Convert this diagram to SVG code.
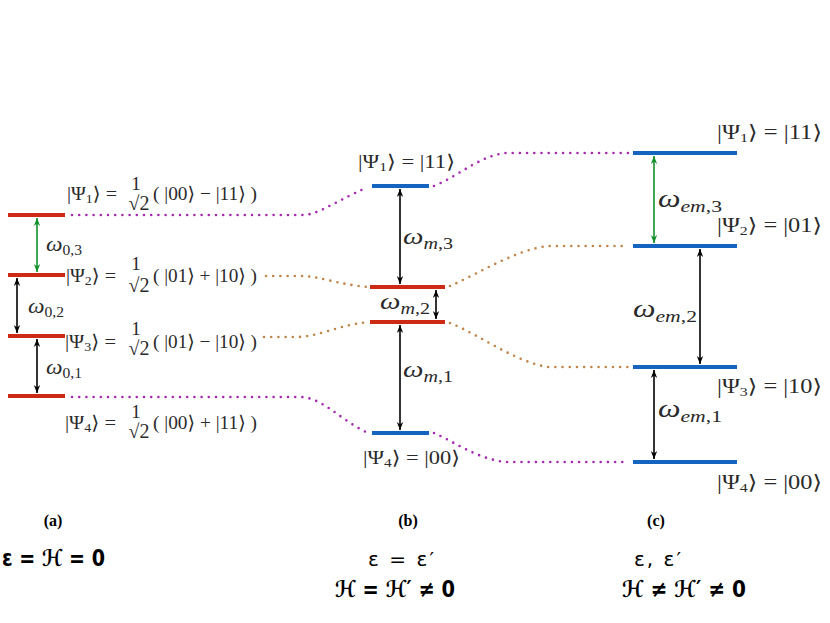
<svg xmlns="http://www.w3.org/2000/svg" width="830" height="623" viewBox="0 0 830 623">
<style>
.lv-r{stroke:#cc2a14;stroke-width:4;fill:none}
.lv-b{stroke:#1565c0;stroke-width:4;fill:none}
.arr{stroke:#000;stroke-width:1.6;fill:none;marker-start:url(#ak);marker-end:url(#ak)}
.arr-g{stroke:#12902a;stroke-width:1.6;fill:none;marker-start:url(#ag);marker-end:url(#ag)}
.dp{stroke:#a52ab0;stroke-width:2.6;fill:none;stroke-dasharray:0 7.2;stroke-linecap:round}
.db{stroke:#c0854a;stroke-width:2.6;fill:none;stroke-dasharray:0 7.2;stroke-linecap:round}
.t{font-family:'Liberation Serif','DejaVu Serif',serif;fill:#2a2a2a}
.m{font-family:'Liberation Serif','DejaVu Serif',serif;font-style:italic;fill:#2a2a2a}
.cap{font-family:'Liberation Serif','DejaVu Serif',serif;font-weight:bold;font-size:16px;fill:#000}
.eq{font-family:'DejaVu Sans',sans-serif;fill:#000}
</style>
<defs>
<marker id="ak" viewBox="0 0 10 10" refX="10" refY="5" markerWidth="8" markerHeight="8" orient="auto-start-reverse" markerUnits="userSpaceOnUse"><path d="M0,1 L10,5 L0,9 L3,5 z" fill="#000"/></marker>
<marker id="ag" viewBox="0 0 10 10" refX="10" refY="5" markerWidth="8" markerHeight="8" orient="auto-start-reverse" markerUnits="userSpaceOnUse"><path d="M0,1 L10,5 L0,9 L3,5 z" fill="#12902a"/></marker>
</defs>

<g id="connectors">
<path class="dp" d="M72,215 H302 C318,215 330,204 368,187"/>
<path class="db" d="M266,276 H300 C320,276 335,284 368,287"/>
<path class="db" d="M264,337 H296 C318,337 335,326 368,322"/>
<path class="dp" d="M72,397 H300 C322,397 340,420 368,433"/>
<path class="dp" d="M434,186 C460,175 480,156 505,153 H628"/>
<path class="db" d="M450,286 C480,273 515,250 548,246 H628"/>
<path class="db" d="M450,323 C480,335 515,362 548,367 H628"/>
<path class="dp" d="M434,433 C455,442 475,458 505,462 H628"/>
</g>

<g id="panel-a">
<line class="lv-r" x1="8" y1="215" x2="65" y2="215"/>
<line class="lv-r" x1="8" y1="275" x2="65" y2="275"/>
<line class="lv-r" x1="8" y1="336" x2="65" y2="336"/>
<line class="lv-r" x1="8" y1="396" x2="65" y2="396"/>
<line class="arr-g" x1="37" y1="218" x2="37" y2="272"/>
<line class="arr" x1="17" y1="278" x2="17" y2="333"/>
<line class="arr" x1="37" y1="339" x2="37" y2="393"/>
<text class="m" x="46" y="251" font-size="21" textLength="36" lengthAdjust="spacingAndGlyphs">ω<tspan font-size="14" font-style="normal" dy="4">0,3</tspan></text>
<text class="m" x="28" y="313" font-size="21" textLength="36" lengthAdjust="spacingAndGlyphs">ω<tspan font-size="14" font-style="normal" dy="4">0,2</tspan></text>
<text class="m" x="46" y="374" font-size="21" textLength="36" lengthAdjust="spacingAndGlyphs">ω<tspan font-size="14" font-style="normal" dy="4">0,1</tspan></text>
</g>

<g id="label-a1">
<text class="t" x="67" y="200" font-size="19" textLength="50" lengthAdjust="spacingAndGlyphs">|Ψ<tspan font-size="13" dy="3">1</tspan><tspan dy="-3">⟩ =</tspan></text>
<text class="t" x="136" y="190" font-size="19" text-anchor="middle">1</text>
<text class="t" x="139" y="210" font-size="20" text-anchor="middle">√2</text>
<text class="t" x="153" y="200" font-size="19" textLength="104" lengthAdjust="spacingAndGlyphs">( |00⟩ − |11⟩ )</text>
</g>
<g id="label-a2">
<text class="t" x="66" y="282" font-size="19" textLength="50" lengthAdjust="spacingAndGlyphs">|Ψ<tspan font-size="13" dy="3">2</tspan><tspan dy="-3">⟩ =</tspan></text>
<text class="t" x="136" y="270" font-size="19" text-anchor="middle">1</text>
<text class="t" x="139" y="292" font-size="20" text-anchor="middle">√2</text>
<text class="t" x="153" y="282" font-size="19" textLength="104" lengthAdjust="spacingAndGlyphs">( |01⟩ + |10⟩ )</text>
</g>
<g id="label-a3">
<text class="t" x="65" y="348" font-size="19" textLength="51" lengthAdjust="spacingAndGlyphs">|Ψ<tspan font-size="13" dy="3">3</tspan><tspan dy="-3">⟩ =</tspan></text>
<text class="t" x="136" y="335" font-size="19" text-anchor="middle">1</text>
<text class="t" x="139" y="355" font-size="20" text-anchor="middle">√2</text>
<text class="t" x="153" y="348" font-size="19" textLength="104" lengthAdjust="spacingAndGlyphs">( |01⟩ − |10⟩ )</text>
</g>
<g id="label-a4">
<text class="t" x="65" y="429" font-size="19" textLength="51" lengthAdjust="spacingAndGlyphs">|Ψ<tspan font-size="13" dy="3">4</tspan><tspan dy="-3">⟩ =</tspan></text>
<text class="t" x="136" y="418" font-size="19" text-anchor="middle">1</text>
<text class="t" x="139" y="438" font-size="20" text-anchor="middle">√2</text>
<text class="t" x="153" y="429" font-size="19" textLength="104" lengthAdjust="spacingAndGlyphs">( |00⟩ + |11⟩ )</text>
</g>

<g id="panel-b">
<line class="lv-b" x1="372" y1="186" x2="429" y2="186"/>
<line class="lv-r" x1="370" y1="287" x2="445" y2="287"/>
<line class="lv-r" x1="370" y1="322" x2="445" y2="322"/>
<line class="lv-b" x1="372" y1="433" x2="429" y2="433"/>
<line class="arr" x1="400" y1="189" x2="400" y2="284"/>
<line class="arr" x1="436" y1="290" x2="436" y2="319"/>
<line class="arr" x1="400" y1="325" x2="400" y2="430"/>
<text class="m" x="403" y="244" font-size="23" textLength="50" lengthAdjust="spacingAndGlyphs">ω<tspan font-size="16" dy="5">m</tspan><tspan font-size="16" font-style="normal">,3</tspan></text>
<text class="m" x="380" y="309" font-size="23" textLength="50" lengthAdjust="spacingAndGlyphs">ω<tspan font-size="16" dy="5">m</tspan><tspan font-size="16" font-style="normal">,2</tspan></text>
<text class="m" x="403" y="377" font-size="23" textLength="50" lengthAdjust="spacingAndGlyphs">ω<tspan font-size="16" dy="5">m</tspan><tspan font-size="16" font-style="normal">,1</tspan></text>
<text class="t" x="358" y="168" font-size="19" textLength="97" lengthAdjust="spacingAndGlyphs">|Ψ<tspan font-size="13" dy="3">1</tspan><tspan dy="-3">⟩ = |11⟩</tspan></text>
<text class="t" x="363" y="464" font-size="19" textLength="97" lengthAdjust="spacingAndGlyphs">|Ψ<tspan font-size="13" dy="3">4</tspan><tspan dy="-3">⟩ = |00⟩</tspan></text>
</g>

<g id="panel-c">
<line class="lv-b" x1="633" y1="153" x2="737" y2="153"/>
<line class="lv-b" x1="633" y1="246" x2="737" y2="246"/>
<line class="lv-b" x1="633" y1="367" x2="737" y2="367"/>
<line class="lv-b" x1="633" y1="462" x2="737" y2="462"/>
<line class="arr-g" x1="654" y1="156" x2="654" y2="243"/>
<line class="arr" x1="700" y1="249" x2="700" y2="364"/>
<line class="arr" x1="654" y1="370" x2="654" y2="459"/>
<text class="m" x="658" y="207" font-size="25" textLength="64" lengthAdjust="spacingAndGlyphs">ω<tspan font-size="17" dy="5">em</tspan><tspan font-size="17" font-style="normal">,3</tspan></text>
<text class="m" x="633" y="317" font-size="25" textLength="64" lengthAdjust="spacingAndGlyphs">ω<tspan font-size="17" dy="5">em</tspan><tspan font-size="17" font-style="normal">,2</tspan></text>
<text class="m" x="658" y="417" font-size="25" textLength="64" lengthAdjust="spacingAndGlyphs">ω<tspan font-size="17" dy="5">em</tspan><tspan font-size="17" font-style="normal">,1</tspan></text>
<text class="t" x="717" y="139" font-size="20" textLength="105" lengthAdjust="spacingAndGlyphs">|Ψ<tspan font-size="13" dy="3">1</tspan><tspan dy="-3">⟩ = |11⟩</tspan></text>
<text class="t" x="717" y="232" font-size="20" textLength="105" lengthAdjust="spacingAndGlyphs">|Ψ<tspan font-size="13" dy="3">2</tspan><tspan dy="-3">⟩ = |01⟩</tspan></text>
<text class="t" x="717" y="393" font-size="20" textLength="105" lengthAdjust="spacingAndGlyphs">|Ψ<tspan font-size="13" dy="3">3</tspan><tspan dy="-3">⟩ = |10⟩</tspan></text>
<text class="t" x="717" y="489" font-size="20" textLength="105" lengthAdjust="spacingAndGlyphs">|Ψ<tspan font-size="13" dy="3">4</tspan><tspan dy="-3">⟩ = |00⟩</tspan></text>
</g>

<g id="captions">
<text class="cap" x="53" y="526" text-anchor="middle">(a)</text>
<text class="cap" x="408" y="526" text-anchor="middle">(b)</text>
<text class="cap" x="656" y="526" text-anchor="middle">(c)</text>
<text class="eq" x="2" y="566" font-size="23" font-weight="bold" textLength="103" lengthAdjust="spacingAndGlyphs">ε = ℋ = 0</text>
<text class="eq" x="368" y="566" font-size="20" textLength="66" lengthAdjust="spacing">ε  =  ε′</text>
<text class="eq" x="335" y="597" font-size="23" font-weight="bold" textLength="120" lengthAdjust="spacingAndGlyphs">ℋ = ℋ′ ≠ 0</text>
<text class="eq" x="634" y="566" font-size="20" textLength="47" lengthAdjust="spacing">ε, ε′</text>
<text class="eq" x="622" y="597" font-size="23" font-weight="bold" textLength="124" lengthAdjust="spacingAndGlyphs">ℋ ≠ ℋ′ ≠ 0</text>
</g>
</svg>
